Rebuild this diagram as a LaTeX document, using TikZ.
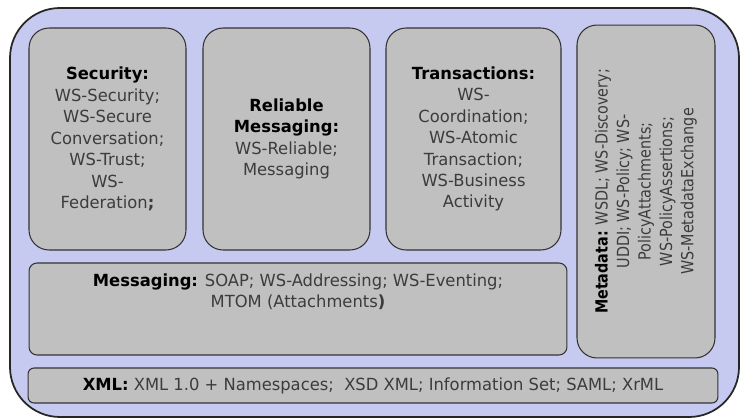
\documentclass[tikz,border=0pt]{standalone}
\usepackage{fontspec}
\setmainfont{DejaVu Sans}[FakeStretch=0.98]
\newfontfamily\metafont{DejaVu Sans}[FakeStretch=0.86]
\usetikzlibrary{positioning}

\definecolor{boxgray}{RGB}{192,192,192}
\definecolor{gridblue}{RGB}{198,202,240}
\definecolor{textgray}{RGB}{60,60,60}

\begin{document}
\begin{tikzpicture}
  [
  x=0.02cm, y=-0.02cm,
  font=\fontsize{9.5}{12.2}\selectfont, line width=0.6pt,
  stack/.style={rectangle, rounded corners=0.4cm, draw=black!80, fill=boxgray, align=center, text=textgray, inner sep=2pt},
  layer/.style={rectangle, rounded corners=0.12cm, draw=black!80, fill=boxgray, align=center, text=textgray, inner sep=2pt}
  ]

\useasboundingbox (0,0) rectangle (741,419);
\draw[rounded corners=1cm, fill=gridblue, draw=black!85, line width=1pt] (10,8) rectangle (739,417);

\node[stack, minimum width=3.14cm, minimum height=4.44cm] (security) at (107.5,139)
  {\textbf{\color{black}Security:}\\WS-Security;\\WS-Secure\\Conversation;\\WS-Trust;\\WS-\\Federation\textbf{;}};
\node[stack, minimum width=3.34cm, minimum height=4.44cm] (reliable) at (286.5,139)
  {\textbf{\color{black}Reliable}\\\textbf{\color{black}Messaging:}\\WS-Reliable;\\Messaging};
\node[stack, minimum width=3.5cm, minimum height=4.44cm] (transactions) at (473.5,139)
  {\textbf{\color{black}Transactions:}\\WS-\\Coordination;\\WS-Atomic\\Transaction;\\WS-Business\\Activity};
\node[stack, minimum width=2.76cm, minimum height=6.66cm] (metadata) at (646,191.5) {};
\node[rotate=90, align=center, text=textgray, font=\metafont\fontsize{9.5}{12.2}\selectfont] (metadatatext) at (metadata.center)
  {\textbf{\color{black}Metadata:} WSDL; WS-Discovery;\\UDDI; WS-Policy; WS-\\PolicyAttachments;\\WS-PolicyAssertions;\\WS-MetadataExchange};

\node[layer, rounded corners=0.16cm, minimum width=10.76cm, minimum height=1.84cm] (messaging) at (298,309) {};
\node[align=center, text=textgray, below=0.1cm of messaging.north] (messagingtext)
  {\textbf{\color{black}Messaging:} SOAP; WS-Addressing; WS-Eventing;\\MTOM (Attachments\textbf{)}};

\node[layer, minimum width=13.8cm, minimum height=0.7cm] (xml) at (373,385.5)
  {\textbf{\color{black}XML:} XML 1.0 + Namespaces;~ XSD XML; Information Set; SAML; XrML};
\end{tikzpicture}
\end{document}
